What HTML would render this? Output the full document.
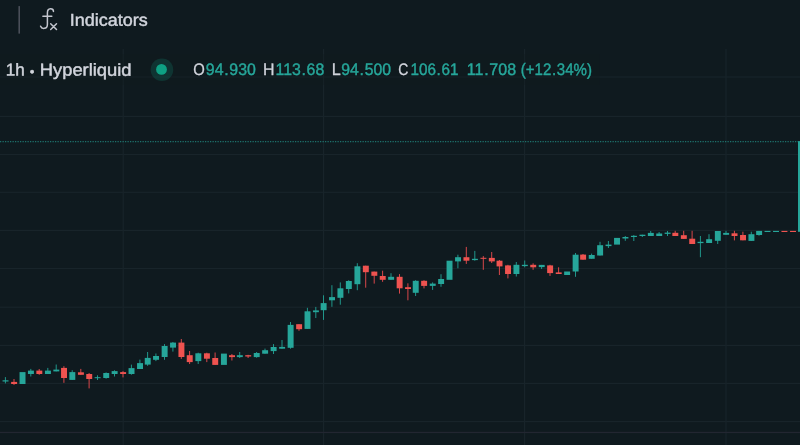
<!DOCTYPE html>
<html lang="en">
<head>
<meta charset="utf-8">
<title>Chart</title>
<style>
html,body{margin:0;padding:0;background:#0f1a1f;}
body{width:800px;height:445px;position:relative;overflow:hidden;font-family:"Liberation Sans",sans-serif;}
.t{display:block;position:absolute;left:0;top:0;white-space:nowrap;line-height:20px;height:20px;transform-origin:0 0;}
.w{color:#d1d4dc;-webkit-text-stroke:0.45px #d1d4dc;}
.l{-webkit-text-stroke-width:0.3px;}
.v{color:#26a69a;-webkit-text-stroke:0.42px #26a69a;}
.p{display:inline-block;width:6.1px;text-align:center;}
</style>
</head>
<body>
<svg width="800" height="445" viewBox="0 0 800 445" style="position:absolute;left:0;top:0">
<rect x="0" y="76.40" width="800" height="1.2" fill="#18242a"/>
<rect x="0" y="115.80" width="800" height="1.2" fill="#18242a"/>
<rect x="0" y="153.90" width="800" height="1.2" fill="#18242a"/>
<rect x="0" y="191.70" width="800" height="1.2" fill="#18242a"/>
<rect x="0" y="229.80" width="800" height="1.2" fill="#18242a"/>
<rect x="0" y="267.90" width="800" height="1.2" fill="#18242a"/>
<rect x="0" y="306.60" width="800" height="1.2" fill="#18242a"/>
<rect x="0" y="344.80" width="800" height="1.2" fill="#18242a"/>
<rect x="0" y="382.80" width="800" height="1.2" fill="#18242a"/>
<rect x="0" y="421.00" width="800" height="1.2" fill="#18242a"/>
<rect x="122.60" y="49" width="1.2" height="396" fill="#18242a"/>
<rect x="323.00" y="49" width="1.2" height="396" fill="#18242a"/>
<rect x="524.00" y="49" width="1.2" height="396" fill="#18242a"/>
<rect x="725.40" y="49" width="1.2" height="396" fill="#18242a"/>
<rect x="0" y="54" width="599.4" height="31" fill="#0f1a1f" fill-opacity="0.3"/>
<rect x="0" y="431.8" width="800" height="1.3" fill="#222631"/>
<line x1="0" y1="141.6" x2="798" y2="141.6" stroke="#26a69a" stroke-width="1.1" stroke-dasharray="1.25 1.25" opacity="0.62"/>
<rect x="4.90" y="377.10" width="1.0" height="6.30" fill="#20968a"/>
<rect x="2.55" y="380.30" width="5.95" height="1.20" fill="#26a69a"/>
<rect x="13.50" y="379.00" width="1.0" height="5.90" fill="#d8474a"/>
<rect x="11.15" y="381.90" width="5.95" height="2.10" fill="#ef5350"/>
<rect x="19.55" y="372.10" width="5.95" height="11.90" fill="#26a69a"/>
<rect x="30.30" y="368.90" width="1.0" height="7.60" fill="#20968a"/>
<rect x="27.95" y="370.60" width="5.95" height="3.40" fill="#26a69a"/>
<rect x="38.70" y="369.00" width="1.0" height="5.80" fill="#d8474a"/>
<rect x="36.35" y="370.60" width="5.95" height="3.40" fill="#ef5350"/>
<rect x="47.30" y="367.90" width="1.0" height="6.10" fill="#20968a"/>
<rect x="44.95" y="370.60" width="5.95" height="3.40" fill="#26a69a"/>
<rect x="55.70" y="364.50" width="1.0" height="6.90" fill="#20968a"/>
<rect x="53.35" y="369.60" width="5.95" height="1.80" fill="#26a69a"/>
<rect x="63.40" y="366.20" width="1.0" height="16.60" fill="#d8474a"/>
<rect x="61.05" y="367.90" width="5.95" height="10.10" fill="#ef5350"/>
<rect x="71.70" y="370.20" width="1.0" height="9.70" fill="#20968a"/>
<rect x="69.35" y="372.10" width="5.95" height="7.80" fill="#26a69a"/>
<rect x="80.30" y="368.90" width="1.0" height="5.90" fill="#d8474a"/>
<rect x="77.95" y="372.30" width="5.95" height="2.50" fill="#ef5350"/>
<rect x="88.60" y="373.00" width="1.0" height="15.40" fill="#d8474a"/>
<rect x="86.25" y="374.00" width="5.95" height="5.00" fill="#ef5350"/>
<rect x="97.00" y="375.30" width="1.0" height="4.70" fill="#20968a"/>
<rect x="94.65" y="377.20" width="5.95" height="1.00" fill="#26a69a"/>
<rect x="105.60" y="372.40" width="1.0" height="6.30" fill="#20968a"/>
<rect x="103.25" y="373.00" width="5.95" height="5.00" fill="#26a69a"/>
<rect x="114.00" y="370.30" width="1.0" height="6.20" fill="#20968a"/>
<rect x="111.65" y="371.10" width="5.95" height="2.90" fill="#26a69a"/>
<rect x="122.50" y="371.10" width="1.0" height="6.30" fill="#d8474a"/>
<rect x="120.15" y="372.10" width="5.95" height="1.90" fill="#ef5350"/>
<rect x="130.90" y="364.60" width="1.0" height="10.10" fill="#20968a"/>
<rect x="128.55" y="368.10" width="5.95" height="5.90" fill="#26a69a"/>
<rect x="139.40" y="359.60" width="1.0" height="9.40" fill="#20968a"/>
<rect x="137.05" y="363.10" width="5.95" height="5.90" fill="#26a69a"/>
<rect x="147.10" y="352.00" width="1.0" height="13.80" fill="#20968a"/>
<rect x="144.75" y="357.90" width="5.95" height="6.70" fill="#26a69a"/>
<rect x="155.40" y="353.50" width="1.0" height="7.60" fill="#20968a"/>
<rect x="153.05" y="356.00" width="5.95" height="3.80" fill="#26a69a"/>
<rect x="164.00" y="344.10" width="1.0" height="15.70" fill="#20968a"/>
<rect x="161.65" y="346.00" width="5.95" height="11.00" fill="#26a69a"/>
<rect x="172.40" y="342.00" width="1.0" height="9.60" fill="#20968a"/>
<rect x="170.05" y="342.60" width="5.95" height="5.00" fill="#26a69a"/>
<rect x="180.80" y="339.00" width="1.0" height="19.90" fill="#d8474a"/>
<rect x="178.45" y="342.60" width="5.95" height="14.40" fill="#ef5350"/>
<rect x="189.10" y="351.00" width="1.0" height="13.00" fill="#d8474a"/>
<rect x="186.75" y="355.20" width="5.95" height="6.90" fill="#ef5350"/>
<rect x="197.70" y="352.70" width="1.0" height="11.30" fill="#20968a"/>
<rect x="195.35" y="353.30" width="5.95" height="7.80" fill="#26a69a"/>
<rect x="206.30" y="352.70" width="1.0" height="9.40" fill="#d8474a"/>
<rect x="203.95" y="353.30" width="5.95" height="5.40" fill="#ef5350"/>
<rect x="214.60" y="352.50" width="1.0" height="12.40" fill="#d8474a"/>
<rect x="212.25" y="358.00" width="5.95" height="6.90" fill="#ef5350"/>
<rect x="220.95" y="353.60" width="5.95" height="11.30" fill="#26a69a"/>
<rect x="231.40" y="354.00" width="1.0" height="6.50" fill="#d8474a"/>
<rect x="229.05" y="355.20" width="5.95" height="1.90" fill="#ef5350"/>
<rect x="239.20" y="352.00" width="1.0" height="6.00" fill="#20968a"/>
<rect x="236.85" y="355.20" width="5.95" height="1.90" fill="#26a69a"/>
<rect x="247.60" y="354.80" width="1.0" height="3.20" fill="#d8474a"/>
<rect x="245.25" y="355.20" width="5.95" height="1.30" fill="#ef5350"/>
<rect x="256.10" y="352.00" width="1.0" height="5.70" fill="#20968a"/>
<rect x="253.75" y="353.00" width="5.95" height="4.10" fill="#26a69a"/>
<rect x="264.50" y="348.60" width="1.0" height="5.10" fill="#20968a"/>
<rect x="262.15" y="350.20" width="5.95" height="3.50" fill="#26a69a"/>
<rect x="273.00" y="344.10" width="1.0" height="9.90" fill="#20968a"/>
<rect x="270.65" y="347.00" width="5.95" height="4.10" fill="#26a69a"/>
<rect x="281.50" y="340.00" width="1.0" height="8.70" fill="#20968a"/>
<rect x="279.15" y="346.90" width="5.95" height="1.80" fill="#26a69a"/>
<rect x="290.00" y="322.00" width="1.0" height="26.70" fill="#20968a"/>
<rect x="287.65" y="324.90" width="5.95" height="22.90" fill="#26a69a"/>
<rect x="298.50" y="324.20" width="1.0" height="6.60" fill="#d8474a"/>
<rect x="296.15" y="324.20" width="5.95" height="5.00" fill="#ef5350"/>
<rect x="306.90" y="307.80" width="1.0" height="21.10" fill="#20968a"/>
<rect x="304.55" y="311.30" width="5.95" height="17.60" fill="#26a69a"/>
<rect x="315.30" y="306.90" width="1.0" height="11.10" fill="#20968a"/>
<rect x="312.95" y="310.40" width="5.95" height="1.80" fill="#26a69a"/>
<rect x="323.00" y="295.30" width="1.0" height="24.60" fill="#20968a"/>
<rect x="320.65" y="303.10" width="5.95" height="7.10" fill="#26a69a"/>
<rect x="331.40" y="285.20" width="1.0" height="21.60" fill="#20968a"/>
<rect x="329.05" y="297.10" width="5.95" height="3.20" fill="#26a69a"/>
<rect x="339.80" y="282.40" width="1.0" height="22.30" fill="#20968a"/>
<rect x="337.45" y="288.30" width="5.95" height="9.50" fill="#26a69a"/>
<rect x="348.20" y="280.20" width="1.0" height="13.20" fill="#20968a"/>
<rect x="345.85" y="281.00" width="5.95" height="8.00" fill="#26a69a"/>
<rect x="356.80" y="263.20" width="1.0" height="27.00" fill="#20968a"/>
<rect x="354.45" y="266.30" width="5.95" height="17.90" fill="#26a69a"/>
<rect x="365.20" y="265.70" width="1.0" height="22.00" fill="#d8474a"/>
<rect x="362.85" y="265.70" width="5.95" height="6.50" fill="#ef5350"/>
<rect x="373.70" y="271.60" width="1.0" height="12.00" fill="#d8474a"/>
<rect x="371.35" y="271.60" width="5.95" height="4.20" fill="#ef5350"/>
<rect x="382.10" y="270.70" width="1.0" height="11.10" fill="#d8474a"/>
<rect x="379.75" y="276.00" width="5.95" height="3.80" fill="#ef5350"/>
<rect x="390.50" y="273.20" width="1.0" height="6.60" fill="#20968a"/>
<rect x="388.15" y="276.80" width="5.95" height="3.00" fill="#26a69a"/>
<rect x="399.00" y="274.10" width="1.0" height="19.50" fill="#d8474a"/>
<rect x="396.65" y="276.80" width="5.95" height="11.50" fill="#ef5350"/>
<rect x="407.40" y="283.30" width="1.0" height="17.00" fill="#d8474a"/>
<rect x="405.05" y="287.20" width="5.95" height="1.80" fill="#ef5350"/>
<rect x="415.10" y="280.20" width="1.0" height="15.80" fill="#20968a"/>
<rect x="412.75" y="280.80" width="5.95" height="12.00" fill="#26a69a"/>
<rect x="423.50" y="280.20" width="1.0" height="8.20" fill="#d8474a"/>
<rect x="421.15" y="280.80" width="5.95" height="5.10" fill="#ef5350"/>
<rect x="432.10" y="282.40" width="1.0" height="7.50" fill="#20968a"/>
<rect x="429.75" y="283.60" width="5.95" height="2.30" fill="#26a69a"/>
<rect x="440.50" y="274.20" width="1.0" height="12.60" fill="#20968a"/>
<rect x="438.15" y="279.00" width="5.95" height="5.00" fill="#26a69a"/>
<rect x="446.55" y="260.70" width="5.95" height="19.10" fill="#26a69a"/>
<rect x="457.40" y="254.70" width="1.0" height="13.60" fill="#20968a"/>
<rect x="455.05" y="257.20" width="5.95" height="4.20" fill="#26a69a"/>
<rect x="465.80" y="246.90" width="1.0" height="17.00" fill="#d8474a"/>
<rect x="463.45" y="257.20" width="5.95" height="3.50" fill="#ef5350"/>
<rect x="474.30" y="250.90" width="1.0" height="9.80" fill="#20968a"/>
<rect x="471.95" y="258.80" width="5.95" height="1.30" fill="#26a69a"/>
<rect x="482.80" y="256.10" width="1.0" height="13.70" fill="#d8474a"/>
<rect x="480.45" y="257.80" width="5.95" height="1.00" fill="#ef5350"/>
<rect x="491.20" y="252.00" width="1.0" height="11.00" fill="#d8474a"/>
<rect x="488.85" y="257.90" width="5.95" height="3.50" fill="#ef5350"/>
<rect x="498.90" y="260.00" width="1.0" height="15.00" fill="#d8474a"/>
<rect x="496.55" y="260.70" width="5.95" height="5.70" fill="#ef5350"/>
<rect x="507.40" y="264.80" width="1.0" height="13.60" fill="#d8474a"/>
<rect x="505.05" y="265.40" width="5.95" height="8.60" fill="#ef5350"/>
<rect x="515.80" y="262.00" width="1.0" height="14.50" fill="#20968a"/>
<rect x="513.45" y="264.80" width="5.95" height="9.20" fill="#26a69a"/>
<rect x="524.20" y="260.50" width="1.0" height="6.80" fill="#20968a"/>
<rect x="521.85" y="264.80" width="5.95" height="1.30" fill="#26a69a"/>
<rect x="532.60" y="263.30" width="1.0" height="6.50" fill="#d8474a"/>
<rect x="530.25" y="264.80" width="5.95" height="2.50" fill="#ef5350"/>
<rect x="541.10" y="264.90" width="1.0" height="4.10" fill="#20968a"/>
<rect x="538.75" y="264.90" width="5.95" height="2.20" fill="#26a69a"/>
<rect x="549.50" y="264.80" width="1.0" height="11.10" fill="#d8474a"/>
<rect x="547.15" y="265.40" width="5.95" height="7.70" fill="#ef5350"/>
<rect x="558.10" y="267.30" width="1.0" height="6.70" fill="#d8474a"/>
<rect x="555.75" y="272.40" width="5.95" height="1.60" fill="#ef5350"/>
<rect x="564.15" y="271.50" width="5.95" height="3.50" fill="#26a69a"/>
<rect x="575.00" y="253.00" width="1.0" height="23.80" fill="#20968a"/>
<rect x="572.65" y="254.70" width="5.95" height="16.80" fill="#26a69a"/>
<rect x="582.50" y="254.00" width="1.0" height="5.70" fill="#d8474a"/>
<rect x="580.15" y="254.60" width="5.95" height="5.10" fill="#ef5350"/>
<rect x="591.10" y="253.60" width="1.0" height="5.20" fill="#20968a"/>
<rect x="588.75" y="255.00" width="5.95" height="3.80" fill="#26a69a"/>
<rect x="599.50" y="241.80" width="1.0" height="13.70" fill="#20968a"/>
<rect x="597.15" y="245.20" width="5.95" height="10.30" fill="#26a69a"/>
<rect x="607.90" y="241.00" width="1.0" height="7.00" fill="#20968a"/>
<rect x="605.55" y="244.60" width="5.95" height="1.50" fill="#26a69a"/>
<rect x="614.05" y="237.90" width="5.95" height="6.70" fill="#26a69a"/>
<rect x="624.80" y="236.00" width="1.0" height="4.80" fill="#20968a"/>
<rect x="622.45" y="237.00" width="5.95" height="1.50" fill="#26a69a"/>
<rect x="633.30" y="235.10" width="1.0" height="5.90" fill="#20968a"/>
<rect x="630.95" y="235.80" width="5.95" height="1.20" fill="#26a69a"/>
<rect x="641.80" y="234.70" width="1.0" height="2.30" fill="#20968a"/>
<rect x="639.45" y="234.70" width="5.95" height="1.30" fill="#26a69a"/>
<rect x="650.20" y="231.00" width="1.0" height="5.00" fill="#20968a"/>
<rect x="647.85" y="232.90" width="5.95" height="3.10" fill="#26a69a"/>
<rect x="658.60" y="232.00" width="1.0" height="4.00" fill="#20968a"/>
<rect x="656.25" y="233.50" width="5.95" height="2.50" fill="#26a69a"/>
<rect x="667.00" y="231.00" width="1.0" height="5.00" fill="#20968a"/>
<rect x="664.65" y="232.60" width="5.95" height="1.30" fill="#26a69a"/>
<rect x="674.70" y="230.80" width="1.0" height="5.20" fill="#d8474a"/>
<rect x="672.35" y="232.80" width="5.95" height="3.20" fill="#ef5350"/>
<rect x="683.20" y="230.80" width="1.0" height="8.10" fill="#d8474a"/>
<rect x="680.85" y="235.20" width="5.95" height="3.70" fill="#ef5350"/>
<rect x="691.60" y="230.80" width="1.0" height="13.20" fill="#d8474a"/>
<rect x="689.25" y="238.70" width="5.95" height="5.30" fill="#ef5350"/>
<rect x="699.90" y="236.00" width="1.0" height="21.20" fill="#20968a"/>
<rect x="697.55" y="241.80" width="5.95" height="1.30" fill="#26a69a"/>
<rect x="708.50" y="234.20" width="1.0" height="8.80" fill="#20968a"/>
<rect x="706.15" y="239.20" width="5.95" height="3.80" fill="#26a69a"/>
<rect x="717.20" y="231.00" width="1.0" height="13.00" fill="#20968a"/>
<rect x="714.85" y="231.00" width="5.95" height="9.80" fill="#26a69a"/>
<rect x="725.50" y="230.80" width="1.0" height="4.00" fill="#20968a"/>
<rect x="723.15" y="232.90" width="5.95" height="1.90" fill="#26a69a"/>
<rect x="733.90" y="230.80" width="1.0" height="9.60" fill="#d8474a"/>
<rect x="731.55" y="233.30" width="5.95" height="2.70" fill="#ef5350"/>
<rect x="742.40" y="231.70" width="1.0" height="8.60" fill="#d8474a"/>
<rect x="740.05" y="235.00" width="5.95" height="5.30" fill="#ef5350"/>
<rect x="750.80" y="231.70" width="1.0" height="9.20" fill="#20968a"/>
<rect x="748.45" y="234.20" width="5.95" height="6.70" fill="#26a69a"/>
<rect x="758.50" y="230.90" width="1.0" height="4.80" fill="#20968a"/>
<rect x="756.15" y="230.90" width="5.95" height="4.10" fill="#26a69a"/>
<rect x="764.55" y="230.90" width="5.95" height="1.10" fill="#26a69a"/>
<rect x="773.05" y="230.90" width="5.95" height="1.10" fill="#26a69a"/>
<rect x="781.45" y="230.90" width="5.95" height="1.10" fill="#ef5350"/>
<rect x="790.05" y="230.90" width="5.95" height="1.10" fill="#ef5350"/>
<rect x="798" y="141.1" width="3" height="90.7" fill="#26a69a"/>
<rect x="18.45" y="6.1" width="1.5" height="27.5" fill="#4e525d"/>
</svg>
<svg width="30" height="30" viewBox="35 5 30 30" style="position:absolute;left:35px;top:5px" fill="none" stroke="#c3c6ce" stroke-width="1.5" stroke-linecap="round">
<path d="M53.5 11.4 C53.3 8.2 47.4 7.2 47.4 13 L47.4 24.2 C47.4 29.6 41.6 29.2 40.6 26.3"/>
<path d="M42.9 16.2 L51.8 16.2"/>
<path d="M50.7 23.8 L56.5 29.5 M56.5 23.8 L50.7 29.5"/>
</svg>
<div class="toolbar">
<span class="t w" id="ind" style="font-size:17.2px;transform:matrix(1.0466,0.0005,0,1,69.84,9.65)">Indicators</span>
</div>
<div class="title">
<span class="t w" id="t1" style="font-size:17.1px;transform:matrix(0.9971,0.0005,0,1,5.65,60.6)">1h</span>
<span class="t w" id="t2" style="font-family:'Liberation Serif',serif;font-size:28px;transform:matrix(1.0400,0.0005,0,1,27.14,62.0)">·</span>
<span class="t w" id="t3" style="font-size:17.1px;transform:matrix(1.0743,0.0005,0,1,39.72,60.6)">Hyperliquid</span>
</div>
<div class="values">
<span class="t w l" id="lo" style="font-size:16.7px;transform:matrix(0.8875,0.0005,0,1,193.31,60.1)">O</span>
<span class="t v" id="vo" style="font-size:16.7px;transform:matrix(0.9515,0.0005,0,1,205.87,60.1)">94<span class="p">.</span>930</span>
<span class="t w l" id="lh" style="font-size:16.7px;transform:matrix(0.9538,0.0005,0,1,263.00,60.1)">H</span>
<span class="t v" id="vh" style="font-size:16.7px;transform:matrix(0.9497,0.0005,0,1,275.55,60.1)">113<span class="p">.</span>68</span>
<span class="t w l" id="ll" style="font-size:16.7px;transform:matrix(0.9677,0.0005,0,1,331.84,60.1)">L</span>
<span class="t v" id="vl" style="font-size:16.7px;transform:matrix(0.9456,0.0005,0,1,341.33,60.1)">94<span class="p">.</span>500</span>
<span class="t w l" id="lc" style="font-size:16.7px;transform:matrix(0.8364,0.0005,0,1,398.21,60.1)">C</span>
<span class="t v" id="vc" style="font-size:16.7px;transform:matrix(0.9157,0.0005,0,1,410.43,60.1)">106<span class="p">.</span>61</span>
<span class="t v" id="vd" style="font-size:16.7px;transform:matrix(0.9608,0.0005,0,1,466.84,60.1)">11<span class="p">.</span>708</span>
<span class="t v" id="vp" style="font-size:16.7px;transform:matrix(0.9006,0.0005,0,1,520.82,60.1)">(+12<span class="p">.</span>34%)</span>
</div>
<svg width="30" height="30" viewBox="147 55 30 30" style="position:absolute;left:147px;top:55px">
<circle cx="161.95" cy="69.7" r="11.3" fill="#0ea083" fill-opacity="0.2"/>
<circle cx="161.5" cy="69.4" r="5.4" fill="#0ea083"/>
</svg>
</body>
</html>
